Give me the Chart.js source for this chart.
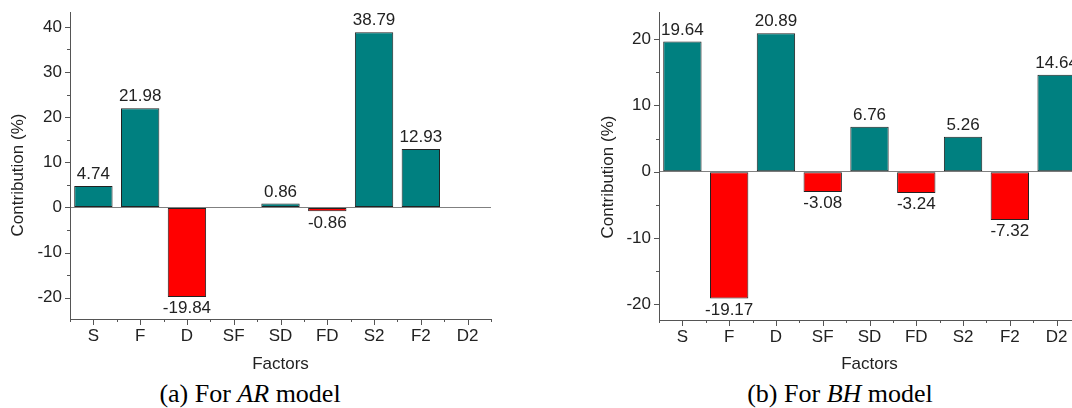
<!DOCTYPE html>
<html>
<head>
<meta charset="utf-8">
<script src="https://cdn.jsdelivr.net/npm/chart.js@4/dist/chart.umd.min.js"></script>
<style>
  body { margin: 0; width: 1072px; height: 408px; overflow: hidden; background: #fff; position: relative; }
  .panel { position: absolute; top: 0; }
  .cap { position: absolute; top: 380px; width: 400px; text-align: center;
         font: 26px "Liberation Serif", "Times New Roman", serif; line-height: 28px; color: #000; }
</style>
</head>
<body>
<div class="panel" style="left:0"><canvas id="chartA" width="500" height="378"></canvas></div>
<div class="panel" style="left:590px"><canvas id="chartB" width="500" height="378"></canvas></div>
<div class="cap" style="left:50px">(a) For <i>AR</i> model</div>
<div class="cap" style="left:640px">(b) For <i>BH</i> model</div>
<script>
const factors = ["S", "F", "D", "SF", "SD", "FD", "S2", "F2", "D2"];
const arValues = [4.74, 21.98, -19.84, 0, 0.86, -0.86, 38.79, 12.93, 0];
const bhValues = [19.64, -19.17, 20.89, -3.08, 6.76, -3.24, 5.26, -7.32, 14.64];
const arRange = [-24.7, 43.3];
const bhRange = [-22.4, 24.1];
const tickStep = 10;

const POS = "#008080";
const NEG = "#ff0000";
const AXIS = "#555555";
const TEXT = "#222222";
const FONT = '"Liberation Sans", Arial, sans-serif';
const FSIZE = 17;

// small outward tick marks, major every 10 / minor every 5, x major at centres and minor between
const tickMarks = {
    id: 'tickMarks',
    afterDraw(chart) {
        const {ctx, chartArea: a, scales: {x, y}} = chart;
        ctx.save();
        ctx.strokeStyle = AXIS;
        ctx.lineWidth = 1;
        ctx.beginPath();
        for (let v = Math.ceil(y.min / 5) * 5; v <= y.max; v += 5) {
            const py = Math.round(y.getPixelForValue(v)) + 0.5;
            const len = v % 10 === 0 ? 5 : 3;
            ctx.moveTo(a.left, py);
            ctx.lineTo(a.left - len, py);
        }
        const n = chart.data.labels.length;
        for (let i = 0; i < n; i++) {
            const px = Math.round(x.getPixelForValue(i)) + 0.5;
            ctx.moveTo(px, a.bottom);
            ctx.lineTo(px, a.bottom + 6);
        }
        for (let i = 0; i <= n; i++) {
            const px = Math.round(x.getPixelForValue(i - 0.5)) + 0.5;
            ctx.moveTo(px, a.bottom);
            ctx.lineTo(px, a.bottom + 3);
        }
        ctx.stroke();
        ctx.restore();
    }
};

// value labels above positive bars, below negative ones
const valueLabels = {
    id: 'valueLabels',
    afterDatasetsDraw(chart) {
        const {ctx} = chart;
        const meta = chart.getDatasetMeta(0);
        const vals = chart.data.datasets[0].data;
        ctx.save();
        ctx.font = FSIZE + 'px ' + FONT;
        ctx.fillStyle = TEXT;
        ctx.textAlign = 'center';
        meta.data.forEach((bar, i) => {
            const v = vals[i];
            if (v === 0) return;
            if (v > 0) {
                ctx.textBaseline = 'alphabetic';
                ctx.fillText(v.toFixed(2), bar.x, bar.y - 7);
            } else {
                ctx.textBaseline = 'top';
                ctx.fillText(v.toFixed(2), bar.x, bar.y + 3);
            }
        });
        ctx.restore();
    }
};

// y title drawn by hand so it can sit a little below the axis middle, like the original
const yTitle = {
    id: 'yTitle',
    afterDraw(chart, args, opts) {
        const {ctx} = chart;
        ctx.save();
        ctx.translate(opts.x, opts.y);
        ctx.rotate(-Math.PI / 2);
        ctx.font = FSIZE + 'px ' + FONT;
        ctx.fillStyle = TEXT;
        ctx.textAlign = 'center';
        ctx.textBaseline = 'middle';
        ctx.fillText(opts.text, 0, 0);
        ctx.restore();
    }
};

function makeChart(id, values, range, yWidth, xHeight, padRight, titleY) {
    const ctx = document.getElementById(id).getContext('2d');
    return new Chart(ctx, {
        type: 'bar',
        data: {
            labels: factors,
            datasets: [{
                data: values,
                backgroundColor: values.map(v => v < 0 ? NEG : POS),
                borderColor: "#222222",
                borderWidth: 1,
                borderSkipped: false,
                barPercentage: 0.82,
                categoryPercentage: 1
            }]
        },
        options: {
            responsive: false,
            animation: false,
            layout: { padding: { top: 12, right: padRight, left: 0, bottom: 0 } },
            plugins: {
                legend: { display: false },
                tooltip: { enabled: false },
                yTitle: { text: "Contribution (%)", x: 18, y: titleY }
            },
            scales: {
                x: {
                    grid: { display: false, drawTicks: false },
                    border: { display: true, color: AXIS, width: 1 },
                    ticks: { color: TEXT, font: { family: FONT, size: FSIZE }, padding: 7, maxRotation: 0 },
                    title: { display: true, text: "Factors", color: TEXT, font: { family: FONT, size: FSIZE }, padding: { top: 0, bottom: 3 } },
                    afterFit: s => { s.height = xHeight; s.paddingLeft = 0; s.paddingRight = 0; }
                },
                y: {
                    min: range[0],
                    max: range[1],
                    grid: {
                        drawTicks: false,
                        color: c => c.tick && c.tick.value === 0 ? "#808080" : "rgba(0,0,0,0)"
                    },
                    border: { display: true, color: AXIS, width: 1 },
                    ticks: { stepSize: tickStep, includeBounds: false, color: TEXT, font: { family: FONT, size: FSIZE }, padding: 8 },
                    afterFit: s => { s.width = yWidth; s.paddingTop = 0; s.paddingBottom = 0; }
                }
            }
        },
        plugins: [tickMarks, valueLabels, yTitle]
    });
}

makeChart('chartA', arValues, arRange, 70, 59, 9, 175);
makeChart('chartB', bhValues, bhRange, 69, 58, 10, 177);
</script>
</body>
</html>
